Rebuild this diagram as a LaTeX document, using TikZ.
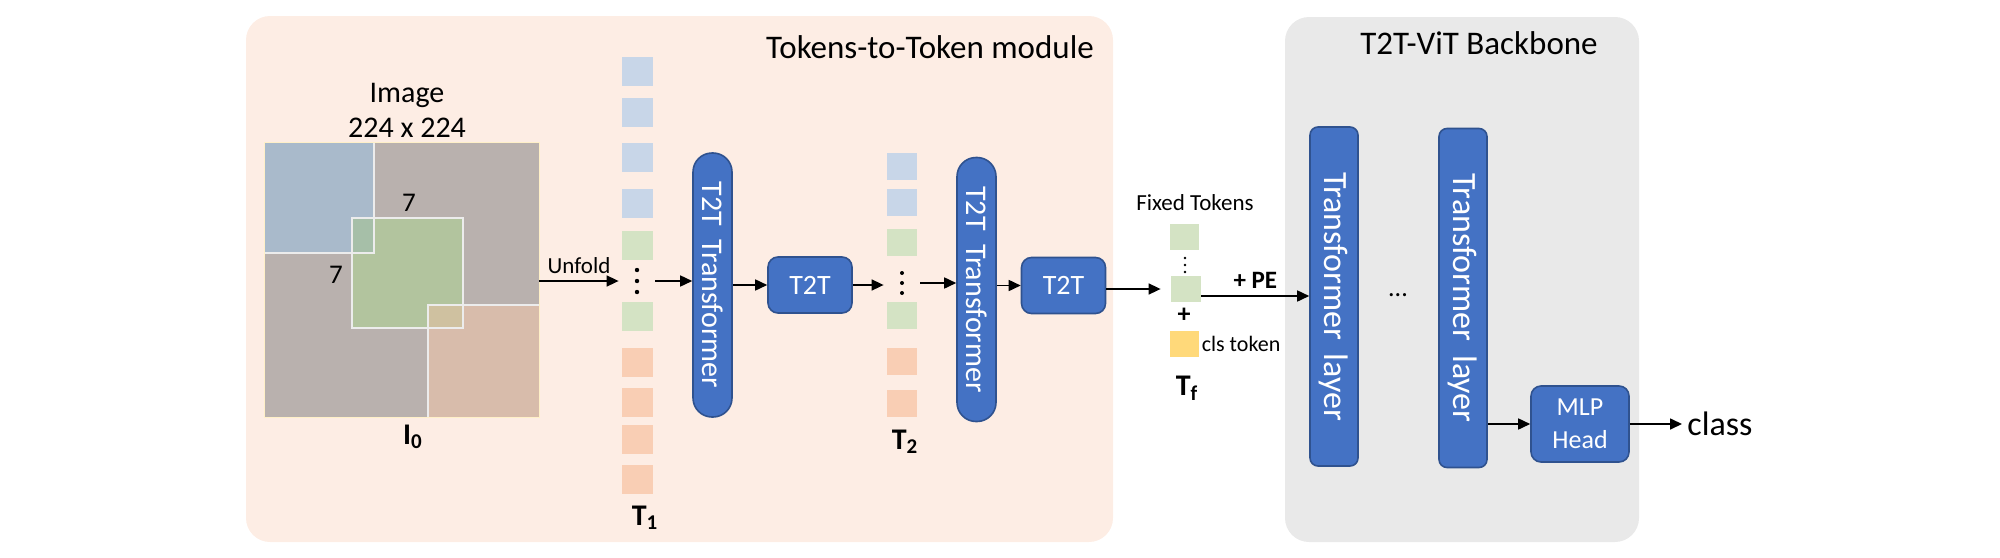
\documentclass[tikz,border=0pt]{standalone}
\usepackage{fontspec}
\setmainfont{Carlito}
\usetikzlibrary{arrows.meta,positioning}
\definecolor{peachbg}{RGB}{253,237,228}
\definecolor{greybg}{RGB}{233,233,233}
\definecolor{blk}{RGB}{68,114,196}
\definecolor{blkline}{RGB}{47,82,143}
\definecolor{tokblue}{RGB}{200,214,232}
\definecolor{tokgreen}{RGB}{212,227,196}
\definecolor{tokorange}{RGB}{249,206,180}
\definecolor{tokyellow}{RGB}{255,217,122}
\definecolor{imggrey}{RGB}{185,177,174}
\definecolor{imgblue}{RGB}{169,186,203}
\definecolor{imggreen}{RGB}{178,196,158}
\definecolor{imgbrown}{RGB}{216,188,171}
\definecolor{mixbg}{RGB}{166,191,168}
\definecolor{mixgo}{RGB}{207,193,160}
\definecolor{imgedge}{RGB}{255,240,200}
\newcommand{\pxsize}{0.5pt}
\newcommand{\tokdots}[4]{
	\node[dotbox] (#1) at (#2,#3) {};
	\foreach \k in {-1,0,1}
		\fill (#2,#3+\k*#4) circle ({0.1*#4 pt});
}

\begin{document}
\begin{tikzpicture}[x=\pxsize,y=-\pxsize,
	blkbox/.style={fill=blk, draw=blkline, line width=0.8pt, text=white, inner sep=0pt},
	tfm/.style={blkbox, rotate=-90, minimum width=132pt, minimum height=19.5pt, rounded corners=9.5pt, font=\fontsize{15}{18}\selectfont},
	layer/.style={blkbox, rotate=-90, minimum width=169.5pt, minimum height=24pt, rounded corners=4pt, font=\fontsize{17}{20}\selectfont},
	t2t/.style={blkbox, minimum width=42pt, minimum height=28pt, rounded corners=5pt, font=\fontsize{14}{17}\selectfont},
	arr/.style={-{Triangle[length=6pt,width=5.5pt]}, line width=0.8pt},
	dotbox/.style={minimum width=18pt, minimum height=12pt, inner sep=0pt},
	tname/.style={font=\fontsize{15}{18}\selectfont\bfseries},
	title/.style={font=\fontsize{16.5}{20}\selectfont},
	patchline/.style={draw=white!85!gray, line width=0.6pt}]
	\useasboundingbox (0,0) rectangle (2000,557);
	\fill[peachbg, rounded corners=12pt] (246,16) rectangle (1113,542);
	\fill[greybg, rounded corners=12pt] (1285,17) rectangle (1639,542);
	\node[title] (ttm) at (930,47) {Tokens-to-Token module};
	\node[title] (bbn) at (1479,43) {T2T-ViT Backbone};

	% input image with its patches
	\node[font=\fontsize{15}{17.5}\selectfont, align=center] (imgt) at (407,110) {Image\\224 x 224};
	\node[fill=imggrey, minimum size=137pt, inner sep=0pt] (img) at (402,280) {};
	\fill[imgblue] (265,143) rectangle (374,253);
	\fill[imggreen] (352,218) rectangle (463,328);
	\fill[imgbrown] (428,305) rectangle (539,417);
	\fill[mixbg] (352,218) rectangle (374,253);
	\fill[mixgo] (428,305) rectangle (463,328);
	\draw[patchline] (265,253) -- (374,253) -- (374,143);
	\draw[patchline] (352,218) rectangle (463,328);
	\draw[patchline] (428,417) -- (428,305) -- (539,305);
	\draw[imgedge, line width=0.6pt] (img.south west) rectangle (img.north east);
	\node[font=\fontsize{13.5}{16}\selectfont] (k1) at (409,203) {7};
	\node[font=\fontsize{13.5}{16}\selectfont] (k2) at (336,275) {7};
	\node[tname] (I0) at (413,437) {I\textsubscript{0}};

	% T1 tokens
	\foreach \y/\c in {57/tokblue,98/tokblue,143/tokblue,189/tokblue,231/tokgreen,302/tokgreen,348/tokorange,388/tokorange,425/tokorange,465/tokorange}
		\fill[\c] (622,\y) rectangle ++(31,29);
	\tokdots{d1}{637}{281}{11}
	\node[tname] (T1) at (645,518) {T\textsubscript{1}};

	\node[tfm] (tr1) at (712.5,285) {T2T\hspace{0.45em}Transformer};
	\node[t2t] (t2t1) at (810,285) {T2T};

	% T2 tokens
	\foreach \y/\c in {153/tokblue,189/tokblue,229/tokgreen,302/tokgreen,348/tokorange,390/tokorange}
		\fill[\c] (887,\y) rectangle ++(30,27);
	\tokdots{d2}{902}{283}{10}
	\node[tname] (T2) at (905,442) {T\textsubscript{2}};

	\node[tfm] (tr2) at (976.5,289.5) {T2T\hspace{0.45em}Transformer};
	\node[t2t] (t2t2) at (1063.5,285.5) {T2T};

	% fixed tokens
	\node[font=\fontsize{11.5}{14}\selectfont] (fxt) at (1195,203) {Fixed Tokens};
	\fill[tokgreen] (1170,224) rectangle ++(29,26);
	\tokdots{fxd}{1185}{265}{7}
	\node[fill=tokgreen, minimum width=15pt, minimum height=13pt, inner sep=0pt] (f2) at (1186,289) {};
	\node[font=\fontsize{13}{16}\selectfont\bfseries] (plus) at (1184,315) {+};
	\node[fill=tokyellow, minimum width=14.5pt, minimum height=13pt, inner sep=0pt] (cls) at (1184.5,344) {};
	\node[right=0pt of cls, font=\fontsize{11}{13}\selectfont, inner sep=1pt] (clst) {cls token};
	\node[tname] (Tf) at (1187,388) {T\textsubscript{f}};

	% backbone
	\node[layer] (tl1) at (1334,296.5) {Transformer\hspace{0.4em}layer};
	\node[font=\fontsize{13}{16}\selectfont] (ell) at (1398,295) {...};
	\node[layer] (tl2) at (1463,298) {Transformer\hspace{0.4em}layer};
	\node[t2t, align=center, font=\fontsize{13}{16.5}\selectfont, minimum width=49pt, minimum height=38pt] (mlp) at (1580,424) {MLP\\Head};
	\node[font=\fontsize{17}{20}\selectfont, anchor=west, inner sep=2.5pt] (cla) at (1682,424) {class};

	\draw[arr] (img.east |- d1) -- node[above, font=\fontsize{11.5}{14}\selectfont] {Unfold} (d1.west);
	\draw[arr] (d1.east) -- (d1.east -| tr1.south);
	\draw[arr] (t2t1.west -| tr1.north) -- (t2t1.west);
	\draw[arr] (t2t1.east) -- (t2t1.east -| d2.west);
	\draw[arr] (d2.east) -- (d2.east -| tr2.south);
	\draw[arr] (t2t2.west -| tr2.north) -- (t2t2.west);
	\draw[arr, shorten >=5pt] (t2t2.east |- f2) -- (f2.west);
	\draw[arr] ([yshift=-3.5pt]f2.east) -- node[above, font=\fontsize{12.5}{15}\selectfont\bfseries] {+ PE} ([yshift=-3.5pt]f2.east -| tl1.south);
	\draw[arr] (mlp.west -| tl2.north) -- (mlp.west);
	\draw[arr] (mlp.east) -- (mlp.east -| cla.west);
\end{tikzpicture}
\end{document}
